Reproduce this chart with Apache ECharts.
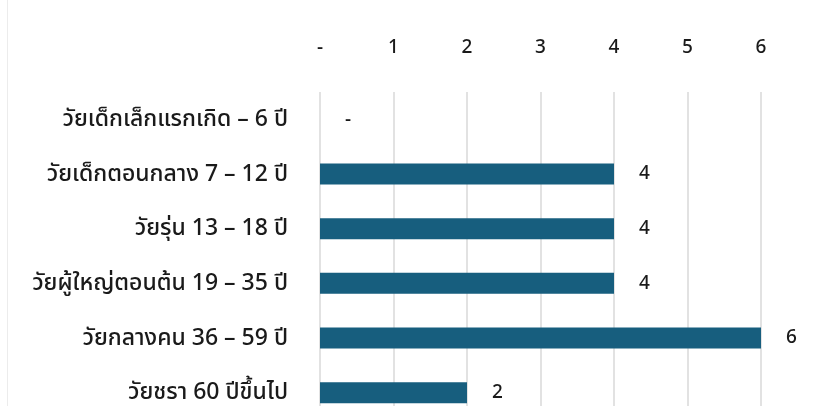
<!DOCTYPE html>
<html>
<head>
<meta charset="utf-8">
<script src="https://cdn.jsdelivr.net/npm/echarts@6/dist/echarts.min.js"></script>
<style>
  html, body { margin: 0; padding: 0; background: #fff; overflow: hidden; width: 824px; height: 406px; }
  #frame { position: absolute; left: 7px; top: 0; width: 1px; height: 406px; background: #ececec; }
  #chart { width: 824px; height: 440px; }
</style>
</head>
<body>
<div id="chart"></div>
<div id="frame"></div>
<script>
// Age groups, top to bottom
const categories = [
  'วัยเด็กเล็กแรกเกิด – 6 ปี',
  'วัยเด็กตอนกลาง 7 – 12 ปี',
  'วัยรุ่น 13 – 18 ปี',
  'วัยผู้ใหญ่ตอนต้น 19 – 35 ปี',
  'วัยกลางคน 36 – 59 ปี',
  'วัยชรา 60 ปีขึ้นไป'
];
const counts = [0, 4, 4, 4, 6, 2];
const tickLabels = ['-', '1', '2', '3', '4', '5', '6'];

const font = 'Tahoma, "Noto Sans", "Noto Sans Thai", sans-serif';
const dash = v => (v === 0 ? '-' : String(v));

const chart = echarts.init(document.getElementById('chart'), null, { renderer: 'canvas' });
chart.setOption({
  animation: false,
  grid: { left: 320, top: 92, width: 441, height: 328, containLabel: false },
  xAxis: {
    type: 'value',
    position: 'top',
    min: 0,
    max: 6,
    interval: 1,
    axisLine: { show: false },
    axisTick: { show: false },
    splitLine: { show: true, lineStyle: { color: '#d9d9d9', width: 1.5 } },
    axisLabel: {
      margin: 35,
      color: '#1a1a1a',
      fontFamily: font,
      fontSize: 19,
      fontWeight: 500,
      formatter: v => tickLabels[v]
    }
  },
  yAxis: {
    type: 'category',
    inverse: true,
    data: categories,
    axisLine: { show: false },
    axisTick: { show: false },
    axisLabel: {
      margin: 32,
      color: '#1a1a1a',
      fontFamily: font,
      fontSize: 23,
      fontWeight: 500
    }
  },
  series: [{
    type: 'bar',
    data: counts,
    barWidth: 21,
    itemStyle: { color: '#175e7e' },
    label: {
      show: true,
      position: 'right',
      distance: 25,
      color: '#1a1a1a',
      fontFamily: font,
      fontSize: 19,
      fontWeight: 500,
      formatter: p => dash(p.value)
    }
  }]
});
</script>
</body>
</html>
